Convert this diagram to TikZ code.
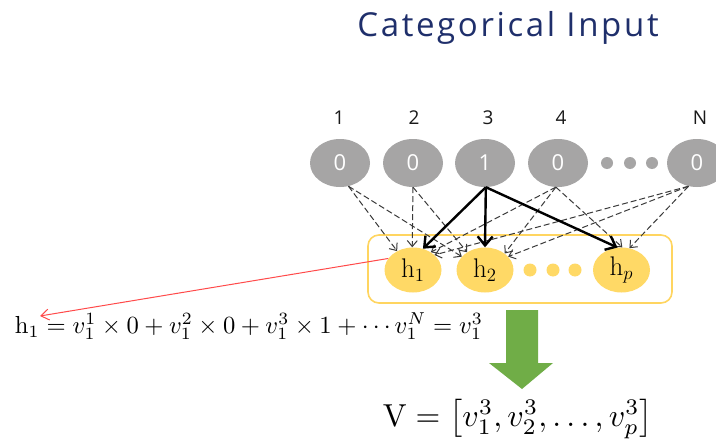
\documentclass[tikz,border=0pt]{standalone}
\usepackage{fontspec}
\usepackage{graphicx}
\usetikzlibrary{arrows.meta,shapes.geometric}
\newfontfamily\osans{Open Sans}
\newfontfamily\titlefnt[LetterSpace=8]{Open Sans}
\definecolor{titleblue}{HTML}{1F2F6B}
\definecolor{ingray}{HTML}{A6A5A5}
\definecolor{hyellow}{HTML}{FFD966}
\definecolor{boxyellow}{HTML}{FFD560}
\definecolor{dashgray}{HTML}{3A3A3A}
\definecolor{redline}{HTML}{FF4A4A}
\definecolor{arrowgreen}{HTML}{70AD47}
\newcommand{\hlab}[1]{\scalebox{1.3}{$\mathrm{h}_{#1}$}}
\tikzset{
  innode/.style={ellipse, fill=ingray, minimum width=60pt, minimum height=48pt, inner sep=0pt,
    text=white, font=\osans\fontsize{22}{24}\selectfont},
  idx/.style={font=\osans\fontsize{19}{21}\selectfont, text=black!90},
  hnode/.style={ellipse, fill=hyellow, minimum width=57pt, minimum height=45pt, inner sep=0pt,
    font=\fontsize{20.74}{24}\selectfont},
  dotfill/.style={circle, fill=#1, minimum size=12pt, inner sep=0pt},
  dashedarrow/.style={draw=dashgray, dash pattern=on 6pt off 3pt, line width=1pt,
    -{Straight Barb[length=6pt,width=10pt,line width=1pt]}},
  boldarrow/.style={draw=black, line width=2.4pt,
    -{Straight Barb[length=9pt,width=15pt,line width=2.4pt]}},
}
\begin{document}
\begin{tikzpicture}[x=1pt,y=-1pt]
\useasboundingbox (0,0) rectangle (716,439);
\clip (0,0) rectangle (716,439);
\fill[white] (0,0) rectangle (716,439);

% title
\node[text=titleblue, font=\titlefnt\fontsize{33}{35}\selectfont] (title) at (508,28) {Categorical Input};

% index labels
\node[idx] (l1) at (339,118) {1};
\node[idx] (l2) at (414,118) {2};
\node[idx] (l3) at (488,118) {3};
\node[idx] (l4) at (561,118) {4};
\node[idx] (lN) at (700,118) {N};

% input nodes
\node[innode] (i1) at (340,163) {0};
\node[innode] (i2) at (413,163) {0};
\node[innode] (i3) at (485,163) {1};
\node[innode] (i4) at (558,163) {0};
\node[innode] (iN) at (697,163) {0};
\node[dotfill=ingray] (d1) at (607,163) {};
\node[dotfill=ingray] (d2) at (630,163) {};
\node[dotfill=ingray] (d3) at (652,163) {};

% hidden box
\node[draw=boxyellow, line width=1.6pt, rounded corners=11pt, minimum width=304pt, minimum height=68pt, inner sep=0pt] (box) at (520,269) {};

% hidden nodes
\node[hnode] (h1) at (413,270) {\hlab{1}};
\node[hnode] (h2) at (485,270) {\hlab{2}};
\node[hnode] (hp) at (621.5,270) {\hlab{p}};
\node[dotfill=hyellow, minimum size=13pt] (e1) at (530,270) {};
\node[dotfill=hyellow, minimum size=13pt] (e2) at (553,270) {};
\node[dotfill=hyellow, minimum size=13pt] (e3) at (575,270) {};

% dashed connections
\draw[dashedarrow] (i1.-70) -- (h1.130);
\draw[dashedarrow] (i1.-70) -- (h2.150);
\draw[dashedarrow] (i2.-90) -- (h1.92);
\draw[dashedarrow] (i2.-90) -- (h2.135);
\draw[dashedarrow] (i4.-95) -- (h1.45);
\draw[dashedarrow] (i4.-95) -- (h2.40);
\draw[dashedarrow] (i4.-95) -- (hp.88);
\draw[dashedarrow] (iN.-110) -- (h1.35);
\draw[dashedarrow] (iN.-110) -- (h2.30);
\draw[dashedarrow] (iN.-110) -- (hp.70);

% bold connections
\draw[boldarrow] (i3.-88) -- (h1.65);
\draw[boldarrow] (i3.-88) -- (h2.90);
\draw[boldarrow] (i3.-88) -- (hp.100);

% red pointer
\coordinate (eqtip) at (40,316);
\draw[redline, line width=1pt, -{Straight Barb[length=8pt,width=11pt,line width=1pt]}] (h1.155) -- (eqtip);

% equation
\node[inner sep=0pt] (eq) at (249,326) {\resizebox{468pt}{!}{$\mathrm{h}_1 = v_1^1 \times 0 + v_1^2 \times 0 + v_1^3 \times 1 + \cdots v_1^N = v_1^3$}};

% green arrow
\fill[arrowgreen] (506,310) -- (538,310) -- (538,363) -- (553,363) -- (522,389) -- (489,363) -- (506,363) -- cycle;

% result
\node[inner sep=0pt] (res) at (518,419) {\resizebox{270pt}{!}{$\mathrm{V} = \left[v_1^3, v_2^3, \ldots, v_p^3\right]$}};
\end{tikzpicture}
\end{document}
